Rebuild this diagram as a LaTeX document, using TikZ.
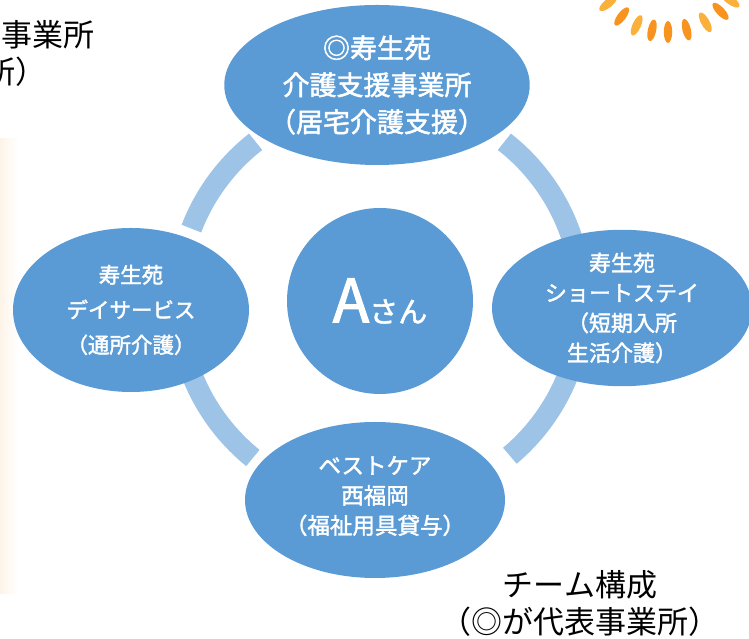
\documentclass[tikz,border=0pt]{standalone}
\usepackage{fontspec}
\setmainfont{Noto Sans CJK JP}
\newfontfamily\officefont{Noto Sans CJK JP}[FakeBold=1.8]
\usepackage{tikz}
\usetikzlibrary{shapes.geometric}
\definecolor{teamblue}{HTML}{5B9BD5}
\definecolor{ringblue}{HTML}{9DC3E6}
\definecolor{sunorange}{HTML}{F7931E}
\definecolor{sunyellow}{HTML}{FBB03B}
\definecolor{stripcream}{HTML}{FDF4E8}

\begin{document}
\begin{tikzpicture}[x=1pt,y=1pt,
  office/.style={ellipse,fill=teamblue,text=white,inner sep=0pt,align=center},
  ring/.style={ringblue,line width=21pt}]
\clip (0,0) rectangle (749,639);
% faint strip along the left edge
\shade[left color=stripcream,right color=white] (0,45) rectangle (18,500);
% sun rays, top right
\coordinate (sun) at (668,684);
\foreach \a/\c in {219/sunyellow,233/sunorange,246/sunyellow,258/sunorange,
                   270/sunorange,284/sunorange,299/sunyellow,313/sunorange,324/sunyellow}
  \fill[\c,shift={(sun)},rotate=\a] (77,0) ellipse[x radius=11,y radius=4.2];
% the user in the middle
\node[office,circle,minimum size=186pt] (san) at (380,338)
  {\officefont\fontsize{60}{60}\selectfont A\fontsize{29}{29}\selectfont さん};
% ring between the offices
\draw[ring] ([shift={(128:202)}]san.center) arc[start angle=128,end angle=159,radius=202];
\draw[ring] ([shift={(17:202)}]san.center) arc[start angle=17,end angle=52,radius=202];
\draw[ring] ([shift={(-20:202)}]san.center) arc[start angle=-20,end angle=-50,radius=202];
\draw[ring] ([shift={(202:202)}]san.center) arc[start angle=202,end angle=231,radius=202];
% offices
\node[office,minimum width=302pt,minimum height=160pt,font=\officefont\fontsize{27}{37}\selectfont]
  (kyotaku) at (377,554) {◎寿生苑\\介護支援事業所\\（居宅介護支援）};
\node[office,minimum width=236pt,minimum height=164pt,font=\officefont\fontsize{21.5}{35}\selectfont]
  (day) at (131,329) {寿生苑\\デイサービス\\（通所介護）};
\node[office,minimum width=260pt,minimum height=148pt,font=\officefont\fontsize{22}{30}\selectfont]
  (short) at (622,331) {寿生苑\\ショートステイ\\（短期入所\\生活介護）};
\node[office,minimum width=260pt,minimum height=156pt,font=\officefont\fontsize{22.5}{30}\selectfont]
  (yogu) at (375,139) {ベストケア\\西福岡\\（福祉用具貸与）\\[-20pt]};
% captions
\node[anchor=east,inner sep=0pt,font=\fontsize{31}{31}\selectfont] (jigyo) at (95,604) {事業所};
\node[anchor=east,inner sep=0pt,font=\fontsize{31}{31}\selectfont] (kakko) at (47,567) {所）};
\node[align=center,font=\fontsize{31}{37}\selectfont] (team) at (580,36)
  {チーム構成\\（◎が代表事業所）};
\end{tikzpicture}
\end{document}
